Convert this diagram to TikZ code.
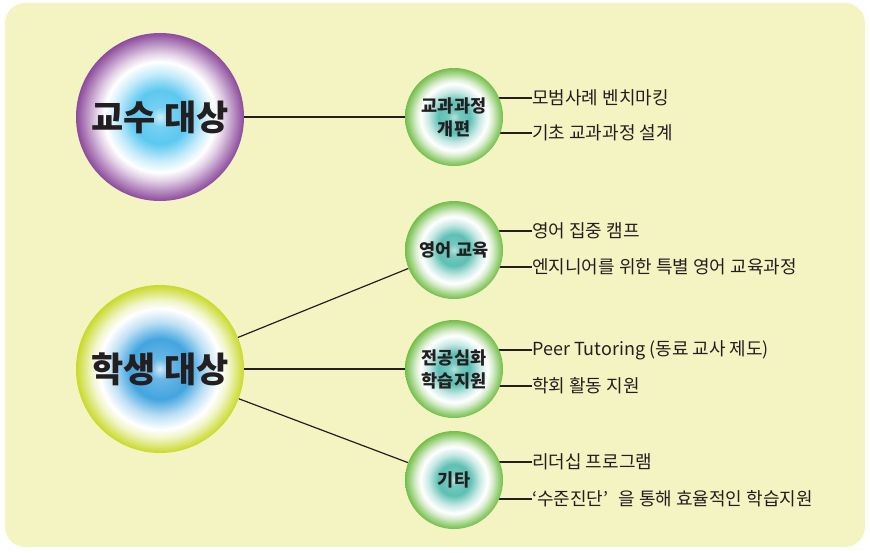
\documentclass[tikz,border=0pt]{standalone}
\usepackage{fontspec}
\setmainfont{Noto Sans CJK KR}
\usetikzlibrary{backgrounds}
\definecolor{bgc}{HTML}{F4F4C2}
\definecolor{cyc}{HTML}{5CC8F0}
\definecolor{pur}{HTML}{8C4A9C}
\definecolor{blu}{HTML}{43A5E0}
\definecolor{ylw}{HTML}{C9D92A}
\definecolor{tea}{HTML}{5DBFB4}
\definecolor{grn}{HTML}{72BE48}
\definecolor{ink}{HTML}{231F20}
\pgfdeclareradialshading{profsh}{\pgfpoint{0bp}{0bp}}{color(0bp)=(cyc!30!white); color(3bp)=(cyc!85!white); color(8bp)=(cyc); color(13bp)=(cyc!35!white); color(16.5bp)=(white); color(19bp)=(pur!25!white); color(25bp)=(pur); color(50bp)=(pur)}
\pgfdeclareradialshading{stush}{\pgfpoint{0bp}{0bp}}{color(0bp)=(blu!25!white); color(3bp)=(blu!80!white); color(9bp)=(blu); color(14bp)=(blu!35!white); color(18bp)=(white); color(20.5bp)=(ylw!25!white); color(25bp)=(ylw); color(50bp)=(ylw)}
\pgfdeclareradialshading{smallsh}{\pgfpoint{0bp}{0bp}}{color(0bp)=(tea!45!white); color(3bp)=(tea!85!white); color(8bp)=(tea); color(13bp)=(tea!35!white); color(17bp)=(white); color(19.5bp)=(grn!25!white); color(25bp)=(grn); color(50bp)=(grn)}
\tikzset{
  bigc/.style={circle, minimum size=168pt, inner sep=0pt, shade, font=\fontsize{35}{40}\selectfont\bfseries, text=ink},
  smallc/.style={circle, minimum size=98pt, inner sep=0pt, shade, shading=smallsh, align=center, font=\fontsize{17.5}{23}\selectfont\bfseries, text=ink},
  item/.style={anchor=west, inner sep=0pt, font=\fontsize{18}{22}\selectfont, text=ink},
  conn/.style={draw=ink, line width=1.2pt}
}
\begin{document}
\begin{tikzpicture}[x=1pt,y=-1pt]
\useasboundingbox (0,0) rectangle (870,552);
\begin{scope}[on background layer]
\fill[bgc, rounded corners=20pt] (5,3) rectangle (865,547);
\end{scope}
\node[bigc, shading=profsh] (prof) at (160,117) {교수 대상};
\node[bigc, shading=stush] (stu) at (160,369) {학생 대상};
\node[smallc] (cur) at (454,117) {교과과정\\개편};
\node[smallc] (eng) at (454,250) {영어 교육};
\node[smallc] (maj) at (454,369) {전공심화\\학습지원};
\node[smallc] (etc) at (454,480) {기타};
\node[item] (a1) at (532,98) {모범사례 벤치마킹};
\node[item] (a2) at (532,133) {기초 교과과정 설계};
\node[item] (b1) at (532,231) {영어 집중 캠프};
\node[item] (b2) at (532,267) {엔지니어를 위한 특별 영어 교육과정};
\node[item] (c1) at (532,350) {Peer Tutoring (동료 교사 제도)};
\node[item] (c2) at (532,386) {학회 활동 지원};
\node[item] (d1) at (532,462) {리더십 프로그램};
\node[item] (d2) at (532,499) {‘수준진단’\hspace{6pt} 을 통해 효율적인 학습지원};
\begin{scope}[on background layer]
\draw[conn] (prof) -- (cur);
\draw[conn] (stu) -- (eng);
\draw[conn] (stu) -- (maj);
\draw[conn] (stu) -- (etc);
\draw[conn] (a1.west) -- (cur.center |- a1.west);
\draw[conn] (a2.west) -- (cur.center |- a2.west);
\draw[conn] (b1.west) -- (eng.center |- b1.west);
\draw[conn] (b2.west) -- (eng.center |- b2.west);
\draw[conn] (c1.west) -- (maj.center |- c1.west);
\draw[conn] (c2.west) -- (maj.center |- c2.west);
\draw[conn] (d1.west) -- (etc.center |- d1.west);
\draw[conn] (d2.west) -- (etc.center |- d2.west);
\end{scope}
\end{tikzpicture}
\end{document}
